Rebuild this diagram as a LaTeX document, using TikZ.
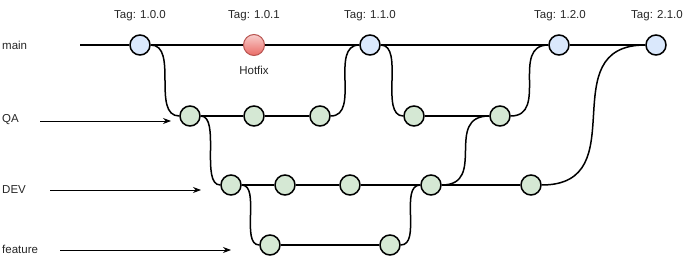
\documentclass[tikz,border=0pt]{standalone}
\usepackage{fontspec}
\setmainfont{Liberation Sans}
\usetikzlibrary{arrows.meta}
\definecolor{cblue}{HTML}{DAE8FC}
\definecolor{cgreen}{HTML}{D5E8D4}
\definecolor{hottop}{HTML}{F8CECC}
\definecolor{hotbot}{HTML}{EA6B66}
\definecolor{hotline}{HTML}{B85450}
\begin{document}
\begin{tikzpicture}[x=1pt,y=-1pt,
  commit/.style={circle,draw=black,line width=1.5pt,minimum size=20pt,inner sep=0pt},
  rel/.style={commit,fill=cblue},
  dev/.style={commit,fill=cgreen},
  hot/.style={circle,draw=hotline,line width=1pt,minimum size=21pt,inner sep=0pt,top color=hottop,bottom color=hotbot},
  branch/.style={line width=1.5pt},
  lbl/.style={font=\fontsize{11.5}{13}\selectfont,inner sep=0pt,text=black!85},
  ptr/.style={line width=0.9pt,-{Stealth[length=8pt,width=6pt]}},
  bendto/.style={branch,out=0,in=180,distance=#1}]
\useasboundingbox (0,0) rectangle (697,265);

% labels
\node[lbl,anchor=west] (lmain) at (2,45) {main};
\node[lbl,anchor=west] (lqa) at (2,120) {QA};
\node[lbl,anchor=west] (ldev) at (2,190) {DEV};
\node[lbl,anchor=west] (lfeat) at (2,249) {feature};
\node[lbl] (t100) at (140,16) {Tag: 1.0.0};
\node[lbl] (t101) at (254,16) {Tag: 1.0.1};
\node[lbl] (t110) at (370,16) {Tag: 1.1.0};
\node[lbl] (t120) at (560,16) {Tag: 1.2.0};
\node[lbl] (t210) at (657,16) {Tag: 2.1.0};
\node[lbl] (lhot) at (254,70) {Hotfix};

% main
\coordinate (ms) at (80,45);
\node[rel] (m1) at (140,45) {};
\node[hot] (hf) at (254,45) {};
\node[rel] (m2) at (370,45) {};
\node[rel] (m4) at (559,45) {};
\node[rel] (m5) at (656,45) {};
% QA
\node[dev] (q1) at (190,116) {};
\node[dev] (q2) at (254,116) {};
\node[dev] (q3) at (320,116) {};
\node[dev] (q4) at (414,116) {};
\node[dev] (q5) at (500,116) {};
% DEV
\node[dev] (d1) at (231,185) {};
\node[dev] (d2) at (285,185) {};
\node[dev] (d3) at (350,185) {};
\node[dev] (d4) at (431,185) {};
\node[dev] (d5) at (531,185) {};
% feature
\node[dev] (f1) at (270,245) {};
\node[dev] (f2) at (390,245) {};

% straight branch lines
\draw[branch] (ms) -- (m1) -- (hf) -- (m2) -- (m4) -- (m5);
\draw[branch] (q1) -- (q2) -- (q3);
\draw[branch] (q4) -- (q5);
\draw[branch] (d1) -- (d2) -- (d3) -- (d4) -- (d5);
\draw[branch] (f1) -- (f2);

% curved merges / branches
\draw[bendto=28] (m1) to (q1);
\draw[bendto=20] (q1) to (d1);
\draw[bendto=30] (q3) to (m2);
\draw[bendto=24] (m2) to (q4);
\draw[bendto=38] (q5) to (m4);
\draw[bendto=19] (d1) to (f1);
\draw[bendto=21] (f2) to (d4);
\draw[bendto=46] (d4) to (q5);
\draw[bendto=95] (d5) to (m5);

% pointers
\coordinate (qa0) at (40,121);  \coordinate (qa1) at (171,121);
\coordinate (dv0) at (50,190);  \coordinate (dv1) at (201,190);
\coordinate (fe0) at (60,250);  \coordinate (fe1) at (231,250);
\draw[ptr] (qa0) -- (qa1);
\draw[ptr] (dv0) -- (dv1);
\draw[ptr] (fe0) -- (fe1);
\end{tikzpicture}
\end{document}
